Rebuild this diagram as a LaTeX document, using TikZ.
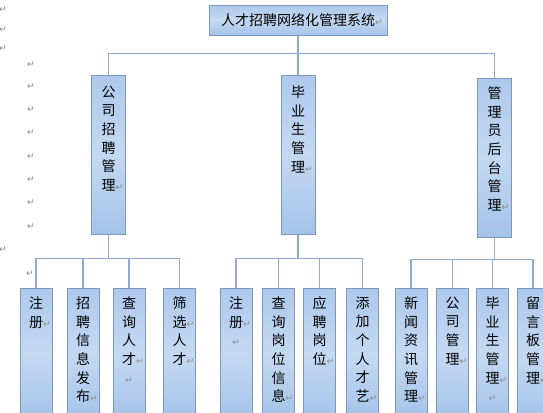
\documentclass[tikz,border=0pt]{standalone}
\usepackage{fontspec}
\newfontfamily\cjk{Noto Sans CJK SC}
\newfontfamily\markfont{DejaVu Sans}
\usetikzlibrary{positioning}

\definecolor{boxtop}{HTML}{AEC9EC}
\definecolor{boxmid}{HTML}{C4D8F1}
\definecolor{boxbot}{HTML}{A4C3E9}
\definecolor{boxline}{HTML}{7C98BE}
\definecolor{linkline}{HTML}{8FAAD0}
\definecolor{markgray}{HTML}{8C8C8C}

% paragraph mark as shown by the word processor
\newcommand{\ret}{{\markfont\fontsize{7}{7}\selectfont\textcolor{markgray}{↵}}}
\newcommand{\retr}{\rlap{\ret}}

\tikzset{every picture/.style={line width=0.75pt},
  box/.style={draw=boxline, line width=0.75pt, top color=boxtop, bottom color=boxbot, middle color=boxmid, inner sep=0pt},
  titlebox/.style={box, minimum width=133.5pt, minimum height=22.5pt, font=\cjk\fontsize{10.5}{14}\selectfont},
  groupbox/.style={box, minimum width=25.5pt, minimum height=119.25pt},
  leafbox/.style={box, minimum width=24pt, minimum height=99pt},
  vtext/.style={font=\cjk\fontsize{10.5}{14}\selectfont, align=center, inner sep=0pt},
  link/.style={draw=linkline, line width=1.1pt},
  pmark/.style={inner sep=0pt}
}

\begin{document}
\begin{tikzpicture}[x=0.75pt,y=0.75pt,yscale=-1,xscale=1]
    %page size 543 x 412
    \useasboundingbox (0,0) rectangle (543,412);
    \clip (0,0) rectangle (543,412);
    %Paragraph marks on the left margin
    \node[pmark] (m1) at (3,10) {\ret};
    \node[pmark] (m2) at (3,30) {\ret};
    \node[pmark] (m3) at (3,49) {\ret};
    \node[pmark] (m4) at (31,65) {\ret};
    \node[pmark] (m5) at (31,87) {\ret};
    \node[pmark] (m6) at (31,110) {\ret};
    \node[pmark] (m7) at (31,133) {\ret};
    \node[pmark] (m8) at (31,157) {\ret};
    \node[pmark] (m9) at (31,180) {\ret};
    \node[pmark] (m10) at (31,203) {\ret};
    \node[pmark] (m11) at (31,227) {\ret};
    \node[pmark] (m12) at (3,250) {\ret};
    \node[pmark] (m13) at (30,274) {\ret};
    %Title box
    \node[titlebox] (sys) at (298,20) {人才招聘网络化管理系统\retr};
    %Group boxes
    \node[groupbox] (gco) at (108.5,154.5) {};
    \node[vtext, below=8pt of gco.north] (gcot) {公\\司\\招\\聘\\管\\理\retr};
    \node[groupbox] (ggr) at (298,154.5) {};
    \node[vtext, below=8pt of ggr.north] (ggrt) {毕\\业\\生\\管\\理\retr};
    \node[groupbox] (gad) at (494.5,157.5) {};
    \node[vtext, below=6.5pt of gad.north] (gadt) {管\\理\\员\\后\\台\\管\\理\retr};
    %Leaf boxes, company side
    \node[leafbox] (c1) at (36,354) {};
    \node[vtext, below=6.5pt of c1.north] (c1t) {注\\册\retr};
    \node[leafbox] (c2) at (83,354) {};
    \node[vtext, below=6.5pt of c2.north] (c2t) {招\\聘\\信\\息\\发\\布\retr};
    \node[leafbox] (c3) at (129,354) {};
    \node[vtext, below=6.5pt of c3.north] (c3t) {查\\询\\人\\才\retr\\\ret};
    \node[leafbox] (c4) at (179.5,354) {};
    \node[vtext, below=6.5pt of c4.north] (c4t) {筛\\选\retr\\人\\才\retr};
    %Leaf boxes, graduate side
    \node[leafbox] (s1) at (236,354) {};
    \node[vtext, below=6.5pt of s1.north] (s1t) {注\\册\retr\\\ret};
    \node[leafbox] (s2) at (278.5,354) {};
    \node[vtext, below=6.5pt of s2.north] (s2t) {查\\询\\岗\\位\\信\\息\retr\\\ret};
    \node[leafbox] (s3) at (319.5,354) {};
    \node[vtext, below=6.5pt of s3.north] (s3t) {应\\聘\\岗\\位\retr};
    \node[leafbox] (s4) at (362.5,354) {};
    \node[vtext, below=6.5pt of s4.north] (s4t) {添\\加\\个\\人\\才\\艺\retr};
    %Leaf boxes, admin side
    \node[leafbox] (a1) at (411,354) {};
    \node[vtext, below=6.5pt of a1.north] (a1t) {新\\闻\\资\\讯\\管\\理\retr};
    \node[leafbox] (a2) at (452.5,354) {};
    \node[vtext, below=6.5pt of a2.north] (a2t) {公\\司\\管\\理\retr};
    \node[leafbox] (a3) at (492.5,354) {};
    \node[vtext, below=6.5pt of a3.north] (a3t) {毕\\业\\生\\管\\理\retr\\\ret};
    \node[leafbox] (a4) at (533,354) {};
    \node[vtext, below=6.5pt of a4.north] (a4t) {留\\言\\板\\管\\理\retr};
    %Straight Lines, title to groups
    \draw[link] (sys.south) -- ++(0,18) -| (gco.north);
    \draw[link] (sys.south) -- ++(0,18) -| (ggr.north);
    \draw[link] (sys.south) -- ++(0,18) -| (gad.north);
    %Straight Lines, company group
    \draw[link] (gco.south) -- ++(0,24) -| (c1.north);
    \draw[link] (gco.south) -- ++(0,24) -| (c2.north);
    \draw[link] (gco.south) -- ++(0,24) -| (c3.north);
    \draw[link] (gco.south) -- ++(0,24) -| (c4.north);
    %Straight Lines, graduate group
    \draw[link] (ggr.south) -- ++(0,24) -| (s1.north);
    \draw[link] (ggr.south) -- ++(0,24) -| (s2.north);
    \draw[link] (ggr.south) -- ++(0,24) -| (s3.north);
    \draw[link] (ggr.south) -- ++(0,24) -| (s4.north);
    %Straight Lines, admin group
    \draw[link] (gad.south) -- ++(0,22) -| (a1.north);
    \draw[link] (gad.south) -- ++(0,22) -| (a2.north);
    \draw[link] (gad.south) -- ++(0,22) -| (a3.north);
    \draw[link] (gad.south) -- ++(0,22) -| (a4.north);
\end{tikzpicture}
\end{document}
